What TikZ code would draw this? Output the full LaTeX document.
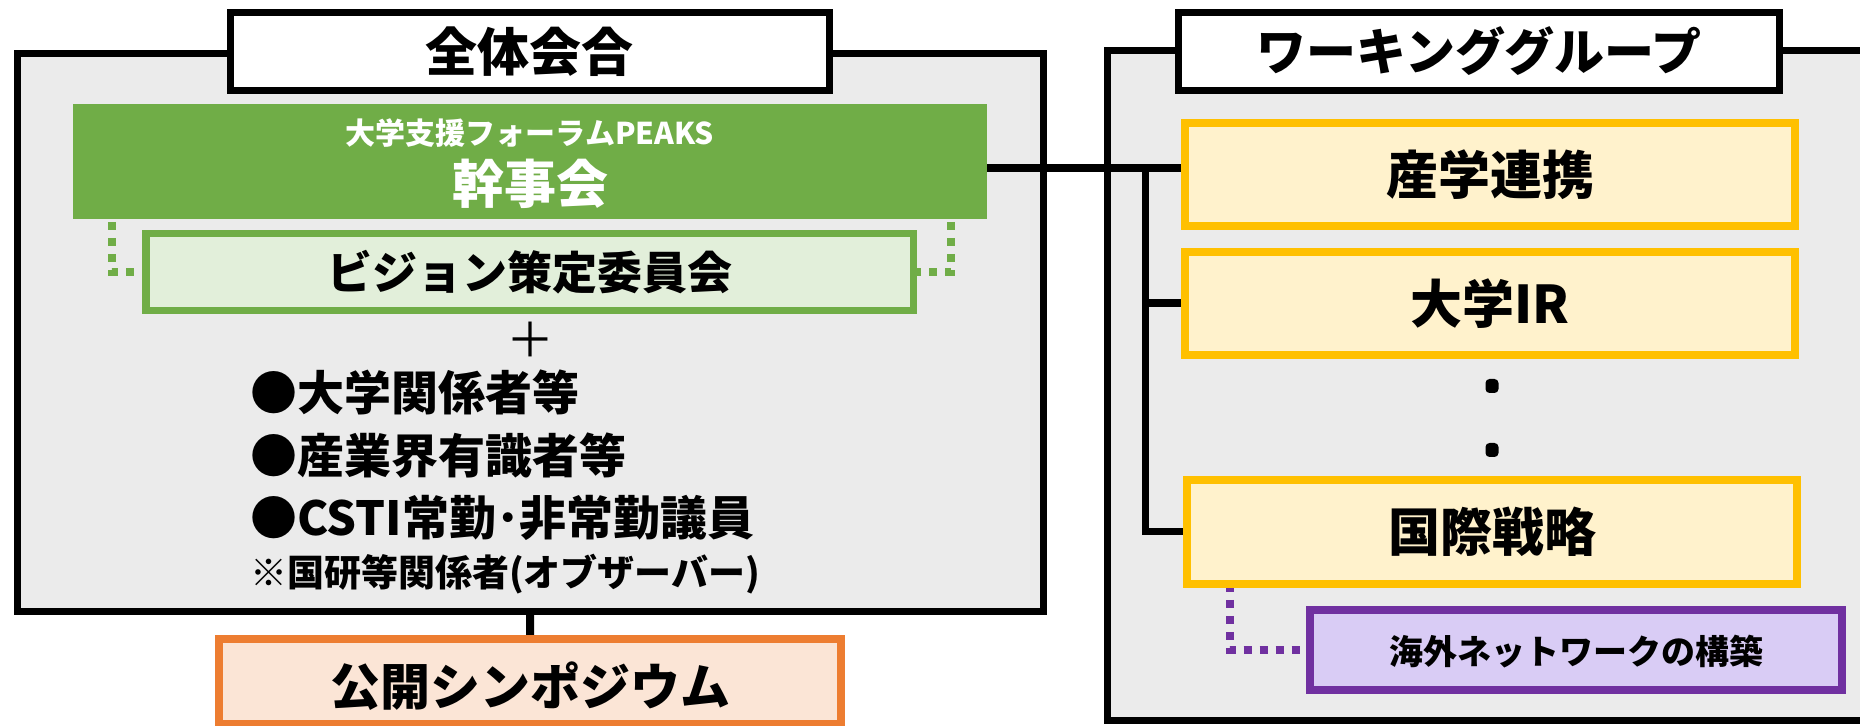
\documentclass[tikz,border=0pt]{standalone}
\usepackage{fontspec}
\setmainfont{Noto Sans CJK JP}
\newcommand\myfs[1]{\fontsize{#1}{#1}\selectfont}
\definecolor{bggray}{RGB}{235,235,235}
\definecolor{pgreen}{RGB}{112,173,71}
\definecolor{lgreen}{RGB}{226,239,218}
\definecolor{porange}{RGB}{237,125,49}
\definecolor{lorange}{RGB}{251,229,214}
\definecolor{pyellow}{RGB}{255,192,0}
\definecolor{lyellow}{RGB}{255,242,204}
\definecolor{ppurple}{RGB}{112,48,160}
\definecolor{lpurple}{RGB}{217,204,245}
\pgfdeclarelayer{bglayer}
\pgfdeclarelayer{midlayer}
\pgfsetlayers{bglayer,midlayer,main}
\begin{document}
\begin{tikzpicture}[x=0.5pt,y=-0.5pt,
  every node/.style={inner sep=0pt, outer sep=0pt, font=\bfseries},
  container/.style={draw=black, line width=3.5pt, fill=bggray, rectangle},
  titlebox/.style={draw=black, line width=3.5pt, fill=white, minimum height=39pt},
  wgbox/.style={draw=pyellow, line width=4pt, fill=lyellow, minimum width=305pt, minimum height=51.5pt, font=\bfseries\myfs{26pt}},
  conn/.style={line width=4pt, black},
  dotgreen/.style={draw=pgreen, line width=4pt, dash pattern=on 4pt off 4pt},
  dotpurple/.style={draw=ppurple, line width=4pt, dash pattern=on 4pt off 4pt},
  listtext/.style={anchor=west, font=\bfseries\myfs{23.5pt}},
  dotmark/.style={rectangle, rounded corners=2pt, fill=black, minimum width=6.5pt, minimum height=7pt}
]
\useasboundingbox (0,0) rectangle (1860,726);
\clip (0,0) rectangle (1860,726);

\begin{pgfonlayer}{bglayer}
\fill[white] (0,0) rectangle (1860,726);
% containers
\node[container, minimum width=512.75pt, minimum height=279.25pt] (zentai) at (530.25,332.75) {};
\node[container, minimum width=386.5pt, minimum height=335pt] (wg) at (1493.5,386) {};
\end{pgfonlayer}

% title boxes
\node[titlebox, minimum width=299.75pt, font=\bfseries\myfs{26pt}] (zentaititle) at (529.75,51.5) {全体会合};
\node[titlebox, minimum width=300.5pt, font=\bfseries\myfs{25pt}] (wgtitle) at (1479,51.5) {ワーキンググループ};

% kanjikai green box
\node[fill=pgreen, minimum width=457pt, minimum height=57.5pt] (kanji) at (530,161.5) {};
\node[text=white, font=\bfseries\myfs{15pt}] (peaks) at (530,133) {大学支援フォーラムPEAKS};
\node[text=white, font=\bfseries\myfs{26pt}] (kanjitext) at (530,184) {幹事会};

% vision committee
\node[draw=pgreen, line width=3.75pt, fill=lgreen, minimum width=383.75pt, minimum height=38.5pt, font=\bfseries\myfs{22.5pt}] (vision) at (529.75,272) {ビジョン策定委員会};

% plus and members
\node[font=\mdseries\myfs{24pt}] (plus) at (530,340) {＋};
\node[listtext] (m1) at (250,392) {●大学関係者等};
\node[listtext] (m2) at (250,456) {●産業界有識者等};
\node[listtext] (m3) at (250,518) {●CSTI常勤･非常勤議員};
\node[anchor=west, font=\bfseries\myfs{18.5pt}] (m4) at (250,574) {※国研等関係者(オブザーバー)};

% symposium
\node[draw=porange, line width=4pt, fill=lorange, minimum width=311pt, minimum height=42.5pt] (sympo) at (530,681.5) {};
\node[font=\bfseries\myfs{25pt}] (sympotext) at (530,686) {公開シンポジウム};

% working groups
\node[wgbox] (sangaku) at (1490,174.5) {産学連携};
\node[wgbox] (ir) at (1490,303.5) {大学IR};
\node[wgbox, minimum height=52pt] (kokusai) at (1492,532) {国際戦略};
\node[dotmark] (dot1) at (1492,386) {};
\node[dotmark] (dot2) at (1492,450) {};

% overseas network
\node[draw=ppurple, line width=3.8pt, fill=lpurple, minimum width=266pt, minimum height=40pt] (kaigai) at (1576,650) {};
\node[font=\bfseries\myfs{17pt}] (kaigaitext) at (1576,652) {海外ネットワークの構築};

% connectors
\begin{pgfonlayer}{midlayer}
\coordinate (bus) at (1145.5,168);
\draw[conn] (kanji.east |- bus) -- (sangaku.west |- bus);
\draw[line width=3.5pt] (bus) |- (kokusai.west);
\draw[line width=4pt] (bus |- ir.west) -- (ir.west);
\draw[conn] (zentai.south) -- (sympo.north);
\draw[dotgreen] ([xshift=-209pt,yshift=-1.5pt]kanji.south) |- (vision.west);
\draw[dotgreen] ([xshift=210.5pt,yshift=-1.5pt]kanji.south) |- (vision.east);
\draw[dotpurple] ([xshift=-131.25pt]kokusai.south) |- (kaigai.west);
\end{pgfonlayer}
\end{tikzpicture}
\end{document}
